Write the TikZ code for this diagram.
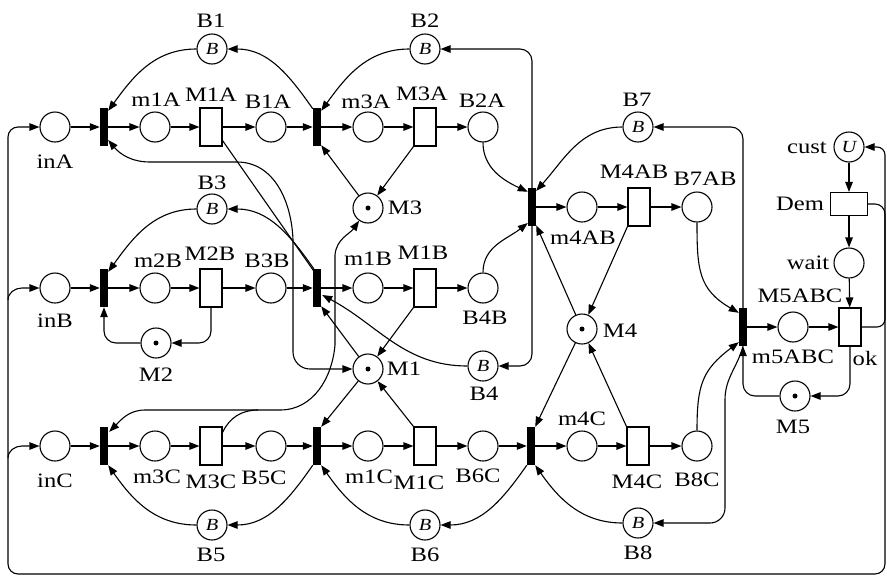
\documentclass[tikz,border=0pt]{standalone}
\usepackage{fontspec}
\newfontfamily\lblfont{Liberation Serif}[FakeStretch=1.2]
\usetikzlibrary{arrows.meta,calc}
\begin{document}
\begin{tikzpicture}[x=1pt,y=1pt,
  lw/.style={line width=1.1pt},
  pl/.style={circle,draw,lw,minimum size=30pt,inner sep=0pt,fill=white},
  tr/.style={rectangle,draw,lw,minimum width=22pt,minimum height=38pt,inner sep=0pt,fill=white},
  bar/.style={rectangle,fill=black,minimum width=8pt,minimum height=38pt,inner sep=0pt},
  bp/.style={pl,font=\lblfont\fontsize{17}{18}\selectfont\itshape},
  lb/.style={font=\lblfont\fontsize{20.5}{22}\selectfont,inner sep=0pt,text height=13pt,text depth=0pt},
  pa/.style={lw,-{Triangle[length=10pt,width=7.5pt]}},
  pb/.style={lw,{Triangle[length=10pt,width=7.5pt]}-{Triangle[length=10pt,width=7.5pt]}},
  pn/.style={lw},
  tok/.style={circle,fill=black,minimum size=5pt,inner sep=0pt}
]
\useasboundingbox (0,0) rectangle (887,-576);
% ---- row A
\node[pl] (inA) at (55,-127) {};
\node[bar] (tA1) at (104,-127) {};
\node[pl] (m1A) at (155,-127) {};
\node[tr] (M1A) at (211,-127) {};
\node[pl] (B1A) at (271,-127) {};
\node[bar] (tA2) at (317,-127) {};
\node[pl] (m3A) at (368,-127) {};
\node[tr] (M3A) at (425,-127) {};
\node[pl] (B2A) at (483,-127) {};
\node[bp] (B1) at (212,-49) {B};
\node[bp] (B2) at (425,-49) {B};
\node[pl] (M3) at (368,-208) {};
\node[bar] (tAB) at (532,-207) {};
\node[pl] (m4AB) at (582,-207) {};
\node[tr] (M4AB) at (639,-207) {};
\node[pl] (B7AB) at (697,-207) {};
\node[bp] (B7) at (638,-127) {B};
\node[pl] (M4) at (582,-329) {};
% ---- row B
\node[pl] (inB) at (55,-288) {};
\node[bar] (tB1) at (104,-288) {};
\node[pl] (m2B) at (155,-288) {};
\node[tr] (M2B) at (211,-288) {};
\node[pl] (B3B) at (271,-288) {};
\node[bar] (tB2) at (317,-288) {};
\node[pl] (m1B) at (368,-288) {};
\node[tr] (M1B) at (425,-288) {};
\node[pl] (B4B) at (483,-288) {};
\node[bp] (B3) at (212,-209) {B};
\node[pl] (M2) at (156,-343) {};
\node[bp] (B4) at (483,-366) {B};
\node[pl] (M1) at (368,-369) {};
% ---- row C
\node[pl] (inC) at (55,-446) {};
\node[bar] (tC1) at (104,-446) {};
\node[pl] (m3C) at (155,-446) {};
\node[tr] (M3C) at (211,-446) {};
\node[pl] (B5C) at (271,-446) {};
\node[bar] (tC2) at (317,-446) {};
\node[pl] (m1C) at (368,-446) {};
\node[tr] (M1C) at (425,-446) {};
\node[pl] (B6C) at (483,-446) {};
\node[bar] (tC3) at (531,-446) {};
\node[pl] (m4C) at (582,-446) {};
\node[tr] (M4C) at (638,-446) {};
\node[pl] (B8C) at (697,-446) {};
\node[bp] (B5) at (212,-525) {B};
\node[bp] (B6) at (425,-525) {B};
\node[bp] (B8) at (638,-523) {B};
% ---- right part
\node[bp] (cust) at (849,-147) {U};
\node[rectangle,draw,lw,minimum width=37pt,minimum height=23pt,inner sep=0pt,fill=white] (Dem) at (849,-204) {};
\node[pl] (wait) at (849,-263) {};
\node[bar] (tABC) at (743,-327) {};
\node[pl] (m5ABC) at (793,-327) {};
\node[tr] (ok) at (850,-327) {};
\node[pl] (M5) at (795,-396) {};
% ---- tokens
\node[tok] (M1t) at (M1) {};
\node[tok] (M2t) at (M2) {};
\node[tok] (M3t) at (M3) {};
\node[tok] (M4t) at (M4) {};
\node[tok] (M5t) at (M5) {};
% ---- labels
\node[lb] (lB1) at (211,-21) {B1};
\node[lb] (lB2) at (425,-21) {B2};
\node[lb] (lm1A) at (156,-100) {m1A};
\node[lb] (lM1A) at (211,-95) {M1A};
\node[lb] (lB1A) at (268,-102) {B1A};
\node[lb] (lm3A) at (366,-102) {m3A};
\node[lb] (lM3A) at (422,-94) {M3A};
\node[lb] (lB2A) at (482,-101) {B2A};
\node[lb] (linA) at (55,-162) {inA};
\node[lb] (lB3) at (212,-183) {B3};
\node[lb] (lM3) at (405,-208) {M3};
\node[lb] (lB7) at (637,-100) {B7};
\node[lb] (lM4AB) at (634,-172) {M4AB};
\node[lb] (lB7AB) at (705,-179) {B7AB};
\node[lb] (lm4AB) at (583,-238) {m4AB};
\node[lb] (lM4) at (620,-331) {M4};
\node[lb] (lm2B) at (158,-261) {m2B};
\node[lb] (lM2B) at (210,-254) {M2B};
\node[lb] (lB3B) at (267,-261) {B3B};
\node[lb] (lm1B) at (368,-259) {m1B};
\node[lb] (lM1B) at (423,-253) {M1B};
\node[lb] (lB4B) at (485,-318) {B4B};
\node[lb] (linB) at (55,-321) {inB};
\node[lb] (lM2) at (156,-375) {M2};
\node[lb] (lB4) at (484,-394) {B4};
\node[lb] (lM1) at (404,-369) {M1};
\node[lb] (linC) at (55,-481) {inC};
\node[lb] (lm3C) at (157,-477) {m3C};
\node[lb] (lM3C) at (211,-482) {M3C};
\node[lb] (lB5C) at (264,-478) {B5C};
\node[lb] (lm1C) at (369,-477) {m1C};
\node[lb] (lM1C) at (419,-483) {M1C};
\node[lb] (lB6C) at (478,-476) {B6C};
\node[lb] (lm4C) at (582,-419) {m4C};
\node[lb] (lM4C) at (637,-482) {M4C};
\node[lb] (lB8C) at (697,-480) {B8C};
\node[lb] (lB5) at (211,-555) {B5};
\node[lb] (lB6) at (425,-555) {B6};
\node[lb] (lB8) at (638,-553) {B8};
\node[lb] (lcust) at (807,-147) {cust};
\node[lb] (lDem) at (800,-204) {Dem};
\node[lb] (lwait) at (808,-263) {wait};
\node[lb] (lM5ABC) at (800,-296) {M5ABC};
\node[lb] (lm5ABC) at (793,-357) {m5ABC};
\node[lb] (lok) at (865,-359) {ok};
\node[lb] (lM5) at (793,-427) {M5};
% ---- straight flow arcs
\foreach \a/\b in {inA/tA1, tA1/m1A, m1A/M1A, M1A/B1A, B1A/tA2, tA2/m3A, m3A/M3A, M3A/B2A,
  inB/tB1, tB1/m2B, m2B/M2B, M2B/B3B, B3B/tB2, tB2/m1B, m1B/M1B, M1B/B4B,
  inC/tC1, tC1/m3C, m3C/M3C, M3C/B5C, B5C/tC2, tC2/m1C, m1C/M1C, M1C/B6C, B6C/tC3, tC3/m4C, m4C/M4C, M4C/B8C,
  tAB/m4AB, m4AB/M4AB, M4AB/B7AB, tABC/m5ABC, m5ABC/ok, cust/Dem, Dem/wait, wait/ok}
  \draw[pa] (\a) -- (\b);
% ---- machine arcs
\draw[pa] (M3) -- ($(tA2.south east)+(0,1)$);
\draw[pa] (M3A.south west) -- (M3);
\draw[pa] (M1) -- ($(tB2.south east)+(0,1)$);
\draw[pa] (M1B.south west) -- (M1);
\draw[pa] (M1) -- (tC2.north east);
\draw[pa] (M1C.north west) -- (M1);
\draw[pa] (M4) -- ($(tAB.south east)+(0,1)$);
\draw[pa] (M4AB.south west) -- (M4);
\draw[pa] (M4C.north west) -- (M4);
\draw[pa] (M4) -- (tC3.north east);
\draw[pn] ($(M1A.south east)+(0,6)$) -- ($(tB2.north)+(-2,-4)$);
\draw[pb] ($(tA1.east)+(0,-13)$) to[out=-50,in=180] (150,-162) -- (237,-162)
  to[out=0,in=92] (293,-240) -- (293,-352) to[out=-90,in=180] (310,-369) -- (M1.west);
\draw[pb] ($(tC1.north east)+(1,-5)$) to[out=45,in=180] (145,-410) -- (280,-410)
  to[out=0,in=-95] (335,-345) -- (335,-255) to[out=85,in=235] (M3.235);
\draw[pn] ($(M3C.north east)+(0,-6)$) to[out=65,in=180] (258,-410);
\draw[pa,rounded corners=12pt] (M2.west) -| (tB1.south);
\draw[pa,rounded corners=12pt] (M2B.south) |- (M2.east);
% ---- buffer arcs
\draw[pa] (B1.west) to[out=180,in=54] ($(tA1.north east)+(0,-3)$);
\draw[pa] ($(tA2.north west)+(0,-1)$) to[out=125,in=0] (B1.east);
\draw[pa] (B2.west) to[out=180,in=54] ($(tA2.north east)+(0,-3)$);
\draw[pa,rounded corners=12pt] (tAB.north) |- (B2.east);
\draw[pa] (B3.west) to[out=180,in=54] ($(tB1.north east)+(0,-3)$);
\draw[pa] ($(tB2.north west)+(1,0)$) to[out=125,in=0] (B3.east);
\draw[pa] (B4.west) to[out=180,in=-28] ($(tB2.east)+(1,-7)$);
\draw[pa,rounded corners=12pt] (tAB.south) |- (B4.east);
\draw[pa] (B4B.north) to[out=90,in=218] ($(tAB.west)+(0,-16)$);
\draw[pa] (B2A.south) to[out=-90,in=155] ($(tAB.north west)+(0,-4)$);
\draw[pa] (B7.west) to[out=180,in=48] ($(tAB.north east)+(0,-3)$);
\draw[pa] (tC3.south west) to[out=235,in=0] (B6.east);
\draw[pa] (B8.west) to[out=180,in=-55] (tC3.south east);
\draw[pa] (tC2.south west) to[out=235,in=0] (B5.east);
\draw[pa] (B5.west) to[out=180,in=-55] (tC1.south east);
\draw[pa] (B6.west) to[out=180,in=-55] (tC2.south east);
% ---- assembly and customers
\draw[pa,rounded corners=12pt] (tABC.north) |- (B7.east);
\draw[pa] (B7AB.south) to[out=-90,in=150,looseness=1.2] ($(tABC.north west)+(0,-5)$);
\draw[pa] (B8C.north) to[out=90,in=217,looseness=1.2] ($(tABC.south west)+(0,4)$);
\draw[pa] (tABC.south) to[out=-105,in=90] (725,-400) -- (725,-508) to[out=-90,in=0] (710,-523) -- (B8.east);
\draw[pa,rounded corners=12pt] (M5.west) -| (tABC.south);
\draw[pa,rounded corners=12pt] (ok.south) |- (M5.east);
\draw[pa,rounded corners=10pt] (Dem.east) -| (885,-574) -| (8,-127) -- (inA.west);
\draw[pa] (8,-300) to[out=90,in=180] (22,-288) -- (inB.west);
\draw[pa] (8,-458) to[out=90,in=180] (22,-446) -- (inC.west);
\draw[pa,rounded corners=8pt] (ok.east) -| (885,-147) -- (cust.east);
\end{tikzpicture}
\end{document}
